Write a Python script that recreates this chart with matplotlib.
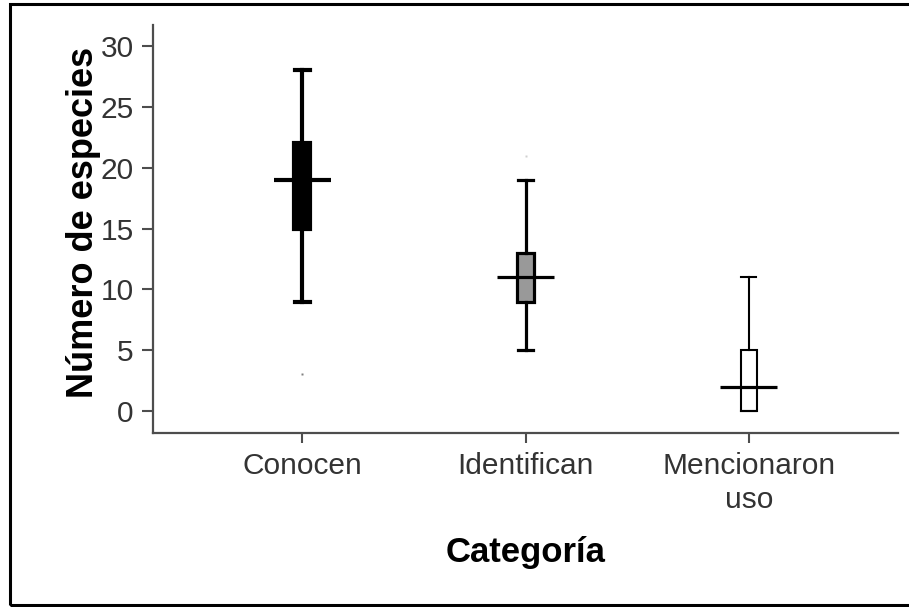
import numpy as np
import matplotlib
matplotlib.use("Agg")
import matplotlib.pyplot as plt
from matplotlib.patches import Rectangle

plt.rcParams['font.family'] = ['Liberation Sans', 'DejaVu Sans']

# box plot summaries
categories = ["Conocen", "Identifican", "Mencionaron\nuso"]
whis_lo = [9, 5, 0]
q1 = [15, 9, 0]
medians = [19, 11, 2]
q3 = [22, 13, 5]
whis_hi = [28, 19, 11]
outliers = [[3], [21], []]

fills = ["#000000", "#999999", "#ffffff"]
line_w = [3.0, 2.3, 1.5]
flier_col = ["#808080", "#d0d0d0", "#808080"]

fig = plt.figure(figsize=(9.09, 6.07), dpi=100)
ax = fig.add_axes([153/909, 1-433/607, (898-153)/909, (433-25)/607])

pos = np.arange(1, len(categories)+1)
for i in range(len(categories)):
    st = [dict(whislo=whis_lo[i], q1=q1[i], med=medians[i], q3=q3[i],
               whishi=whis_hi[i], fliers=outliers[i])]
    ax.bxp(st, positions=[pos[i]], widths=0.072, capwidths=0.068,
           patch_artist=True, showfliers=True,
           boxprops=dict(facecolor=fills[i], edgecolor="black", linewidth=line_w[i]),
           whiskerprops=dict(color="black", linewidth=line_w[i]),
           capprops=dict(color="black", linewidth=line_w[i]),
           medianprops=dict(visible=False),
           flierprops=dict(marker="s", markersize=2, markerfacecolor=flier_col[i],
                           markeredgecolor="none"))
    ax.hlines(medians[i], pos[i]-0.128, pos[i]+0.128, colors="black",
              linewidth=max(line_w[i], 2.3), zorder=5)

ax.set_xlim(1-0.668, 3+0.668)
ax.set_ylim(-1.81, 31.73)
ax.set_yticks([0, 5, 10, 15, 20, 25, 30])
ax.set_xticks(pos)
ax.set_xticklabels(categories)
for t in ax.get_xticklabels():
    t.set_linespacing(1.25)

for s in ["top", "right"]:
    ax.spines[s].set_visible(False)
for s in ["left", "bottom"]:
    ax.spines[s].set_color("#4d4d4d")
    ax.spines[s].set_linewidth(1.6)

ax.tick_params(axis="y", direction="out", length=8, width=1.5, color="#4d4d4d",
               labelsize=21.5, labelcolor="#333333", pad=6)
ax.tick_params(axis="x", direction="out", length=7, width=1.5, color="#4d4d4d",
               labelsize=21.5, labelcolor="#333333", pad=7)

ax.set_ylabel("Número de especies", fontsize=26, fontweight="bold")
ax.yaxis.set_label_coords(-0.07, 0.517)
ax.set_xlabel("Categoría", fontsize=25, fontweight="bold")
ax.xaxis.set_label_coords(0.5007, -0.252)

fig.patches.append(Rectangle((10/909, 2/607), 1.02, (601)/607,
                             transform=fig.transFigure, fill=False,
                             edgecolor="black", linewidth=2.2))

fig.savefig("out.png", dpi=100)
